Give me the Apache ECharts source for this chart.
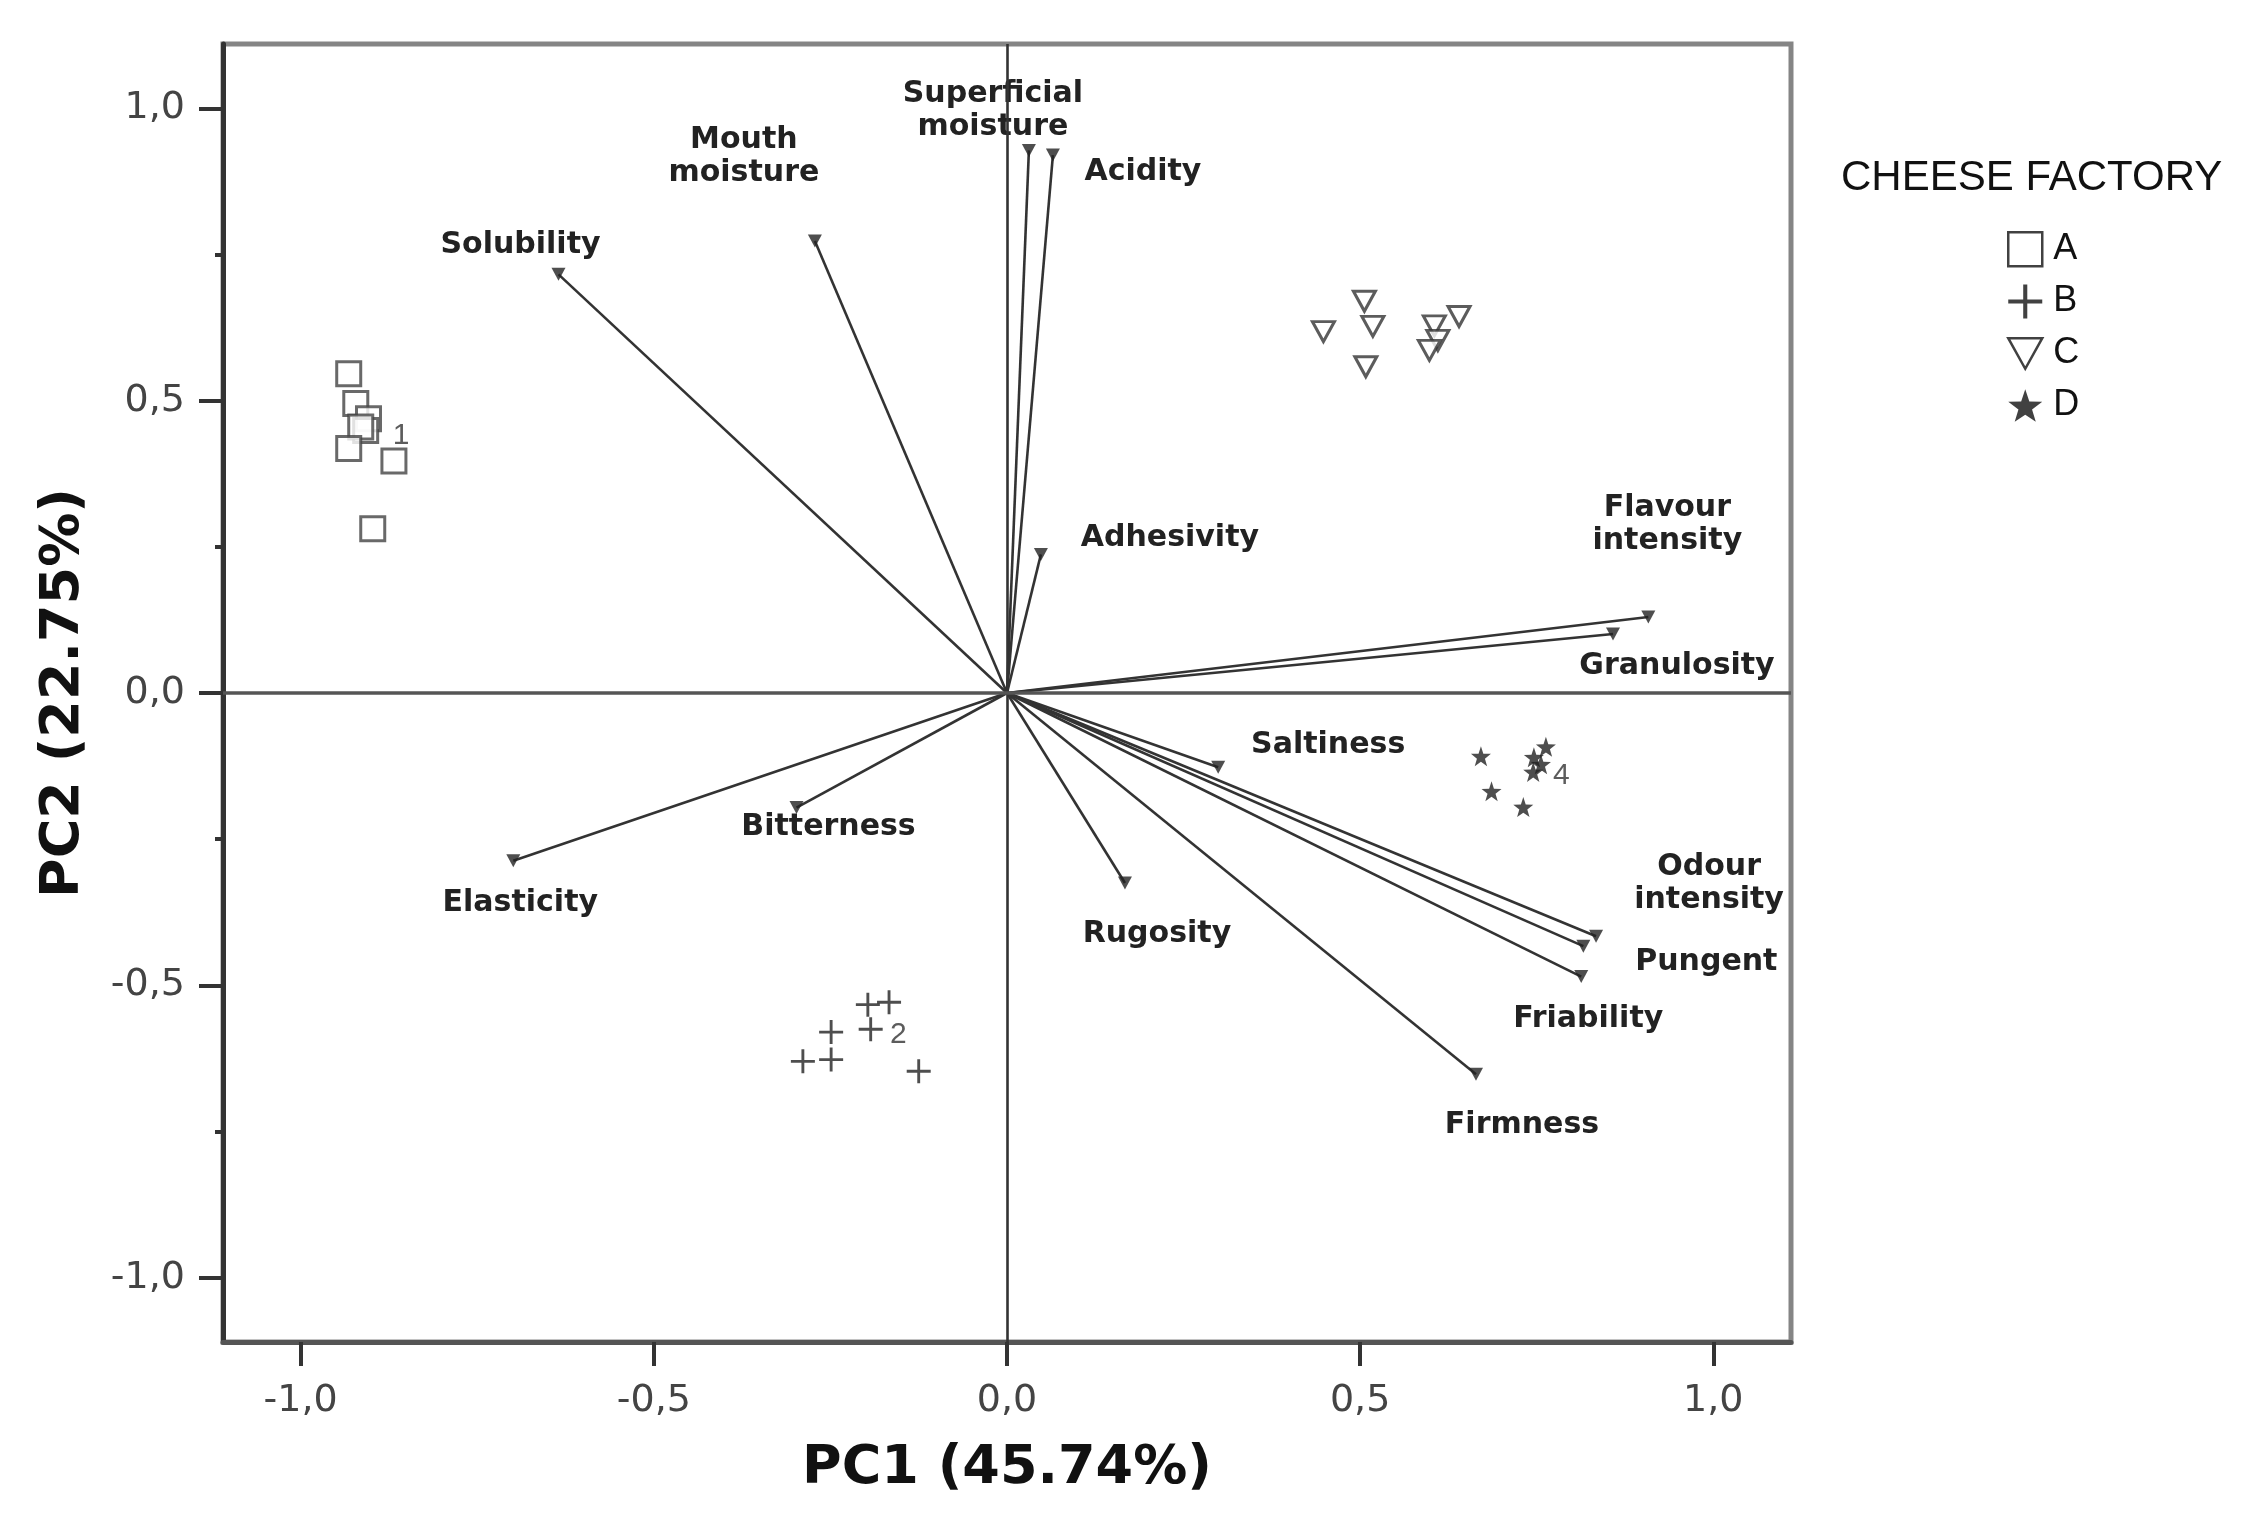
<!DOCTYPE html>
<html>
<head>
<meta charset="utf-8">
<script src="https://cdn.jsdelivr.net/npm/echarts@6/dist/echarts.min.js"></script>
<style>html,body{margin:0;padding:0;background:#fff;}#c{width:2253px;height:1524px;}</style>
</head>
<body>
<div id="c"></div>
<script>
// ---- data ----
const varNames = ['Solubility','Mouth\nmoisture','Superficial\nmoisture','Acidity','Adhesivity','Flavour\nintensity','Granulosity','Saltiness','Odour\nintensity','Pungent','Friability','Firmness','Rugosity','Bitterness','Elasticity'];
const varPC1 = [-0.635, -0.272, 0.031, 0.065, 0.048, 0.908, 0.858, 0.299, 0.834, 0.816, 0.813, 0.664, 0.167, -0.298, -0.699];
const varPC2 = [0.716, 0.773, 0.928, 0.920, 0.237, 0.130, 0.101, -0.127, -0.416, -0.433, -0.485, -0.652, -0.325, -0.196, -0.287];

const factoryNames = ['A','B','C','D'];
const pc1A = [-0.932, -0.922, -0.904, -0.908, -0.915, -0.932, -0.868, -0.898];
const pc2A = [0.546, 0.495, 0.469, 0.449, 0.455, 0.418, 0.397, 0.281];
const pc1B = [-0.197, -0.167, -0.249, -0.193, -0.289, -0.249, -0.125];
const pc2B = [-0.533, -0.529, -0.580, -0.575, -0.630, -0.627, -0.647];
const pc1C = [0.448, 0.506, 0.518, 0.508, 0.605, 0.640, 0.610, 0.598];
const pc2C = [0.618, 0.670, 0.627, 0.558, 0.628, 0.644, 0.603, 0.586];
const pc1D = [0.671, 0.686, 0.731, 0.763, 0.746, 0.745, 0.756];
const pc2D = [-0.108, -0.168, -0.195, -0.092, -0.110, -0.135, -0.122];

const clusterLabels = ['1','2','4'];
const clusterPC1 = [-0.858, -0.154, 0.785];
const clusterPC2 = [0.440, -0.584, -0.142];

const axisTicks = [-1, -0.5, 0, 0.5, 1];
const minorTicksY = [-0.75, -0.25, 0.25, 0.75];

// ---- styling (label offsets in px relative to arrow tip) ----
const labelOffset = {
  'Solubility': [-38,-29], 'Mouth\nmoisture': [-71,-84], 'Superficial\nmoisture': [-36,-40],
  'Acidity': [90,17], 'Adhesivity': [129,-16], 'Flavour\nintensity': [19,-92],
  'Granulosity': [64,32], 'Saltiness': [110,-22], 'Odour\nintensity': [113,-53],
  'Pungent': [123,16], 'Friability': [7,43], 'Firmness': [46,51],
  'Rugosity': [32,51], 'Bitterness': [32,20], 'Elasticity': [7,42]
};

const zip = (a, b) => a.map((v, i) => [v, b[i]]);
const fmt = v => v.toFixed(1).replace('.', ',');

const TRI = 'path://M0,0L10,0L5,9Z';
const PLUS = 'path://M4.4,0H5.6V4.4H10V5.6H5.6V10H4.4V5.6H0V4.4H4.4Z';
const STAR = 'path://M5,0L6.2,3.6L10,3.7L7,6L8.1,9.6L5,7.5L1.9,9.6L3,6L0,3.7L3.8,3.6Z';

const hollowLegend = {color: '#fff', borderColor: '#111', borderWidth: 2.5};
const solidLegend = {color: '#111', borderWidth: 0};

const chart = echarts.init(document.getElementById('c'), null, {renderer: 'canvas'});
const option = {
  backgroundColor: '#fff',
  animation: false,
  title: {
    text: 'CHEESE FACTORY', left: 1836, top: 152,
    textStyle: {fontFamily: 'Liberation Sans', fontSize: 42, fontWeight: 'normal', color: '#111'}
  },
  legend: {
    data: [
      {name: 'A', itemStyle: hollowLegend},
      {name: 'B', itemStyle: solidLegend},
      {name: 'C', itemStyle: hollowLegend},
      {name: 'D', itemStyle: solidLegend}
    ],
    orient: 'vertical', left: 2002, top: 226,
    itemWidth: 34, itemHeight: 34, itemGap: 16, selectedMode: false,
    textStyle: {fontFamily: 'Liberation Sans', fontSize: 36, color: '#111', padding: [0,0,0,6]}
  },
  grid: {left: 223, right: 462, top: 44, bottom: 182, show: true, borderColor: '#858585', borderWidth: 5},
  xAxis: {
    type: 'value', min: -1.11, max: 1.11,
    name: 'PC1 (45.74%)', nameLocation: 'middle', nameGap: 100,
    nameTextStyle: {fontFamily: 'DejaVu Sans', fontWeight: 'bold', fontSize: 54, color: '#111'},
    axisLine: {show: true, onZero: false, lineStyle: {color: '#555', width: 5}},
    axisTick: {show: true, customValues: axisTicks, length: 24, lineStyle: {color: '#333', width: 4}},
    axisLabel: {customValues: axisTicks, formatter: fmt, margin: 40, fontFamily: 'DejaVu Sans', fontSize: 38, color: '#444'},
    splitLine: {show: false}
  },
  yAxis: [{
    type: 'value', min: -1.11, max: 1.11,
    name: 'PC2 (22.75%)', nameLocation: 'middle', nameGap: 132, nameRotate: 90,
    nameTextStyle: {fontFamily: 'DejaVu Sans', fontWeight: 'bold', fontSize: 54, color: '#111'},
    axisLine: {show: true, onZero: false, lineStyle: {color: '#333', width: 5}},
    axisTick: {show: true, customValues: axisTicks, length: 24, lineStyle: {color: '#333', width: 4}},
    axisLabel: {customValues: axisTicks, formatter: fmt, margin: 38, fontFamily: 'DejaVu Sans', fontSize: 38, color: '#444'},
    splitLine: {show: false}
  }, {
    type: 'value', min: -1.11, max: 1.11, position: 'left',
    axisLine: {show: false, onZero: false},
    axisTick: {show: true, customValues: minorTicksY, length: 8, lineStyle: {color: '#333', width: 4}},
    axisLabel: {show: false}, splitLine: {show: false}
  }],
  series: [
    {
      type: 'custom', name: 'vectors', z: 2,
      data: zip(varPC1, varPC2),
      encode: {x: 0, y: 1},
      renderItem: function (params, api) {
        const o = api.coord([0, 0]);
        const p = api.coord([api.value(0), api.value(1)]);
        const name = varNames[params.dataIndex];
        const off = labelOffset[name];
        return {
          type: 'group',
          children: [
            {type: 'line', shape: {x1: o[0], y1: o[1], x2: p[0], y2: p[1]}, style: {stroke: '#333', lineWidth: 2.6}},
            {type: 'text', x: p[0] + off[0], y: p[1] + off[1],
             style: {text: name, fill: '#222', fontFamily: 'DejaVu Sans', fontWeight: 'bold', fontSize: 30,
                     align: 'center', verticalAlign: 'middle', lineHeight: 33}}
          ]
        };
      },
      markLine: {
        silent: true, symbol: 'none', label: {show: false},
        data: [
          {xAxis: 0, lineStyle: {color: '#333', width: 2.6, type: 'solid'}},
          {yAxis: 0, lineStyle: {color: '#555', width: 3.5, type: 'solid'}}
        ]
      }
    },
    {
      type: 'scatter', name: 'tips', z: 3, silent: true,
      data: zip(varPC1, varPC2), symbol: TRI, symbolSize: [14, 13],
      itemStyle: {color: '#222'}
    },
    {
      type: 'scatter', name: 'A', z: 4, data: zip(pc1A, pc2A), symbol: 'rect', symbolSize: 24,
      itemStyle: {color: '#fff', borderColor: '#444', borderWidth: 3}
    },
    {
      type: 'scatter', name: 'B', z: 4, data: zip(pc1B, pc2B), symbol: PLUS, symbolSize: 24,
      itemStyle: {color: '#222'}
    },
    {
      type: 'scatter', name: 'C', z: 4, data: zip(pc1C, pc2C), symbol: TRI, symbolSize: [22, 20],
      itemStyle: {color: '#fff', borderColor: '#333', borderWidth: 3}
    },
    {
      type: 'scatter', name: 'D', z: 4, data: zip(pc1D, pc2D), symbol: STAR, symbolSize: 20,
      itemStyle: {color: '#222'}
    },
    {
      type: 'scatter', name: 'clusters', z: 5, silent: true,
      data: zip(clusterPC1, clusterPC2).map((v, i) => ({value: v, name: clusterLabels[i]})),
      symbolSize: 0,
      label: {show: true, position: 'inside', formatter: '{b}', fontFamily: 'Liberation Sans', fontSize: 30, color: '#333'}
    }
  ]
};
chart.setOption(option);
</script>
</body>
</html>
